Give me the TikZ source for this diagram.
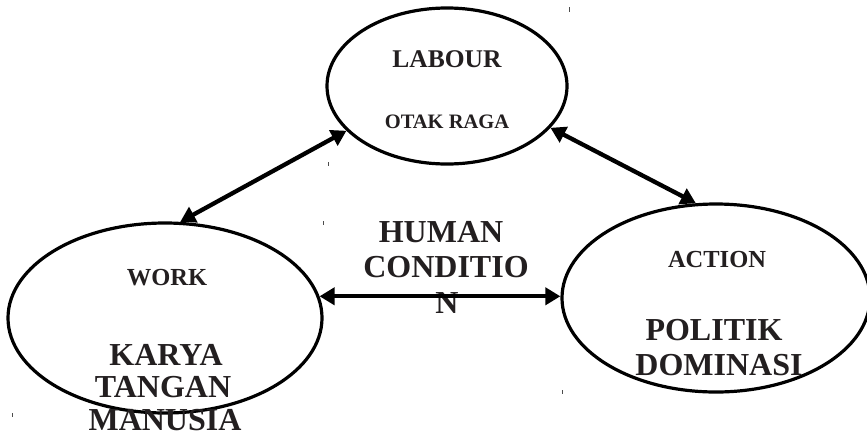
\documentclass[tikz,border=0pt]{standalone}
\usepackage{fontspec}
\setmainfont{Liberation Serif}
\usetikzlibrary{shapes.geometric,arrows.meta}
\definecolor{ink}{HTML}{231F20}
\tikzset{
  oval/.style={draw=black, line width=3.2pt, ellipse, inner sep=0pt},
  dbl/.style={line width=4.3pt, {Triangle[length=15pt,width=17pt]}-{Triangle[length=15pt,width=17pt]}, shorten <=0pt, shorten >=0pt},
  lbl/.style={anchor=base, inner sep=0pt, text=ink, font=\bfseries},
  tick/.style={line width=0.8pt, black!70}
}
\begin{document}
\begin{tikzpicture}[x=1pt,y=-1pt]
\useasboundingbox (0,0) rectangle (867,437);
\fill[white] (0,0) rectangle (867,437);
% ellipses
\node[oval, minimum width=240pt, minimum height=156pt] (labour) at (447,86) {};
\node[oval, minimum width=314pt, minimum height=190pt] (work) at (165,318) {};
\node[oval, minimum width=308pt, minimum height=188pt] (action) at (716,298) {};
% texts
\node[lbl, font=\bfseries\fontsize{25.5}{30}\selectfont] (t1) at (447,67) {LABOUR};
\node[lbl, font=\bfseries\fontsize{20.5}{24}\selectfont] (t2) at (447,128) {OTAK RAGA};
\node[lbl, font=\bfseries\fontsize{24.5}{28}\selectfont] (t3) at (167,285) {WORK};
\node[lbl, font=\bfseries\fontsize{32}{34}\selectfont] (t4) at (166,365) {KARYA};
\node[lbl, font=\bfseries\fontsize{32}{34}\selectfont] (t5) at (163,397) {TANGAN};
\node[lbl, font=\bfseries\fontsize{32}{34}\selectfont] (t6) at (165,430) {MANUSIA};
\node[lbl, font=\bfseries\fontsize{24.5}{28}\selectfont] (t7) at (717,267) {ACTION};
\node[lbl, font=\bfseries\fontsize{32}{34}\selectfont] (t8) at (714,340) {POLITIK};
\node[lbl, font=\bfseries\fontsize{32}{34}\selectfont] (t9) at (719,375) {DOMINASI};
\node[lbl, font=\bfseries\fontsize{32}{34}\selectfont] (h1) at (441,242) {HUMAN};
\node[lbl, font=\bfseries\fontsize{32}{34}\selectfont] (h2) at (446,277) {CONDITIO};
\node[lbl, font=\bfseries\fontsize{32}{34}\selectfont] (h3) at (447,313) {N};
% connectors
\draw[dbl] (work.81) -- (labour.204);
\draw[dbl] (labour.-22) -- (action.102);
\coordinate (wr) at (work.8);
\draw[dbl] (wr) -- (wr -| action.west);
% stray ticks
\draw[tick] (569,7) -- (569,12);
\draw[tick] (328,162) -- (328,166);
\draw[tick] (323,221) -- (323,225);
\draw[tick] (12,413) -- (12,417);
\draw[tick] (562,390) -- (562,394);
\end{tikzpicture}
\end{document}
